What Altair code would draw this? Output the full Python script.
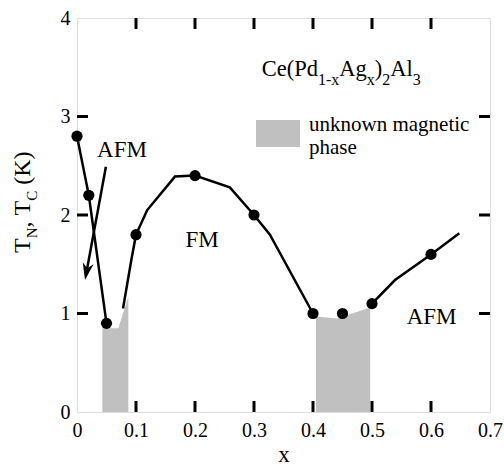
import altair as alt
import pandas as pd

FONT = "Liberation Serif"

# ---------------- data ----------------
pt_x = [0.0, 0.02, 0.05, 0.1, 0.2, 0.3, 0.4, 0.45, 0.5, 0.6]
pt_y = [2.8, 2.2, 0.9, 1.8, 2.4, 2.0, 1.0, 1.0, 1.1, 1.6]

lineA_x = [0.0, 0.02, 0.05]
lineA_y = [2.8, 2.2, 0.9]
lineB_x = [0.078, 0.092, 0.1, 0.119, 0.166, 0.2, 0.259, 0.3, 0.327, 0.4]
lineB_y = [1.05, 1.54, 1.8, 2.05, 2.39, 2.4, 2.28, 2.0, 1.8, 1.0]
lineC_x = [0.5, 0.539, 0.6, 0.648]
lineC_y = [1.1, 1.34, 1.6, 1.815]

shade1_x = [0.043, 0.07, 0.087]
shade1_y = [0.85, 0.85, 1.17]
shade2_x = [0.405, 0.44, 0.497]
shade2_y = [0.97, 0.95, 1.06]

arrow_x = [0.049, 0.0173]
arrow_y = [2.49, 1.46]
arrow_tip_x = [0.0136]
arrow_tip_y = [1.34]

region_labels = ["AFM", "FM", "AFM"]
region_label_x = [0.0763, 0.212, 0.601]
region_label_y = [2.59, 1.675, 0.893]

x_tick_values = [0.0, 0.1, 0.2, 0.3, 0.4, 0.5, 0.6, 0.7]
x_inner_ticks = [0.1, 0.2, 0.3, 0.4, 0.5, 0.6]
y_tick_values = [0, 1, 2, 3, 4]
y_inner_ticks = [1, 2, 3]

formula_parts = ["Ce(Pd", "1-x", "Ag", "x", ")", "2", "Al", "3"]
formula_is_sub = [False, True, False, True, False, True, False, True]
legend_lines = ["unknown magnetic", "phase"]
ytitle_parts = ["T", "N", ", ", "T", "C", " (K)"]
ytitle_is_sub = [False, True, False, False, True, False]

# ---------------- tables ----------------
pts = pd.DataFrame({"x": pt_x, "y": pt_y})

lines = pd.concat([
    pd.DataFrame({"x": lineA_x, "y": lineA_y, "seg": "A"}),
    pd.DataFrame({"x": lineB_x, "y": lineB_y, "seg": "B"}),
    pd.DataFrame({"x": lineC_x, "y": lineC_y, "seg": "C"}),
], ignore_index=True)
lines["ord"] = range(len(lines))

shades = pd.concat([
    pd.DataFrame({"x": shade1_x, "y": shade1_y, "reg": "r1"}),
    pd.DataFrame({"x": shade2_x, "y": shade2_y, "reg": "r2"}),
], ignore_index=True)

arrow = pd.DataFrame({"x": arrow_x, "y": arrow_y})
arrow_tip = pd.DataFrame({"x": arrow_tip_x, "y": arrow_tip_y})
labels_df = pd.DataFrame({"x": region_label_x, "y": region_label_y, "t": region_labels})
xt = pd.DataFrame({"x": x_inner_ticks})
yt = pd.DataFrame({"y": y_inner_ticks})

W, H = 413, 394
GRAY = "#c0c0c0"

# Times / Liberation Serif advance widths (em) for layout of sub-scripted text
EM = {"C": .667, "e": .444, "(": .333, "P": .556, "d": .5, "1": .5, "-": .333,
      "x": .5, "A": .722, "g": .5, ")": .333, "2": .5, "l": .278, "3": .5,
      "T": .611, "N": .722, ",": .25, " ": .25, "K": .722}


def text_width(s, size):
    return sum(EM.get(c, .5) for c in s) * size


xs = alt.Scale(domain=[0, 0.7], nice=False, zero=False)
ys = alt.Scale(domain=[0, 4], nice=False, zero=False)

X = alt.X("x:Q", scale=xs, axis=alt.Axis(
    values=x_tick_values, format="~g", tickSize=0, domain=False, grid=False,
    labelFont=FONT, labelFontSize=20, labelPadding=8, labelColor="black",
    labelOverlap=False, labelBound=False, labelFlush=False,
    title="x", titleFont=FONT, titleFontSize=23, titleFontWeight="normal",
    titleColor="black", titlePadding=3))
Y = alt.Y("y:Q", scale=ys, axis=alt.Axis(
    values=y_tick_values, format="d", tickSize=0, domain=False, grid=False,
    labelFont=FONT, labelFontSize=20, labelPadding=7, labelColor="black",
    labelOverlap=False, labelBound=False, labelFlush=False, title=""))

area = alt.Chart(shades).mark_area(color=GRAY, opacity=1).encode(
    x=X, y=Y, y2=alt.datum(0), detail="reg:N")

line = alt.Chart(lines).mark_line(color="black", strokeWidth=2.5).encode(
    x=X, y=Y, detail="seg:N", order="ord:Q")

dots = alt.Chart(pts).mark_circle(color="black", size=125, opacity=1).encode(x=X, y=Y)

shaft = alt.Chart(arrow).mark_line(color="black", strokeWidth=2.5).encode(x=X, y=Y)
head = alt.Chart(arrow_tip).mark_point(
    shape="M0,0 L-1.1,-3.4 L0,-2.4 L1.1,-3.4 Z", size=100, filled=True,
    color="black", opacity=1, angle=10.5).encode(x=X, y=Y)

lab = alt.Chart(labels_df).mark_text(
    font=FONT, fontSize=23, color="black", align="center", baseline="alphabetic").encode(
    x=X, y=Y, text="t:N")

tick_b = alt.Chart(xt).mark_rule(color="black", strokeWidth=3).encode(
    x=X, y=alt.value(H), y2=alt.value(H - 11))
tick_t = alt.Chart(xt).mark_rule(color="black", strokeWidth=3).encode(
    x=X, y=alt.value(0), y2=alt.value(11))
tick_l = alt.Chart(yt).mark_rule(color="black", strokeWidth=3).encode(
    y=Y, x=alt.value(0), x2=alt.value(11))
tick_r = alt.Chart(yt).mark_rule(color="black", strokeWidth=3).encode(
    y=Y, x=alt.value(W), x2=alt.value(W - 11))

one = alt.Data(values=[{"a": 1}])


def txt(s, x, y, size, angle=0):
    kw = dict(text=s, align="left", baseline="alphabetic", font=FONT,
              fontSize=size, color="black")
    if angle:
        kw["angle"] = angle
    return alt.Chart(one).mark_text(**kw).encode(x=alt.value(x), y=alt.value(y))


layers = [area, line, shaft, head, dots, lab, tick_b, tick_t, tick_l, tick_r]

# formula Ce(Pd1-xAgx)2Al3, laid out piece by piece
MAIN, SUB = 22.5, 16
cx = 184.7
for s, is_sub in zip(formula_parts, formula_is_sub):
    size = SUB if is_sub else MAIN
    layers.append(txt(s, cx, 58 + (9 if is_sub else 0), size))
    cx += text_width(s, size)

# legend swatch + text
layers.append(alt.Chart(one).mark_rect(color=GRAY).encode(
    x=alt.value(179), x2=alt.value(223), y=alt.value(102), y2=alt.value(129)))
for i, s in enumerate(legend_lines):
    layers.append(txt(s, 232, 112.5 + 23 * i, 21))

# rotated y-axis title T_N, T_C (K)
YT_MAIN, YT_SUB = 24, 15
cy = 235
for s, is_sub in zip(ytitle_parts, ytitle_is_sub):
    size = YT_SUB if is_sub else YT_MAIN
    lead = len(s) - len(s.lstrip())
    cy -= lead * EM[" "] * size
    body = s.strip()
    layers.append(txt(body, -47 + (7 if is_sub else 0), cy, size, 270))
    cy -= text_width(s[lead:], size)

chart = alt.layer(*layers).properties(
    width=W, height=H,
    autosize=alt.AutoSizeParams(type="none"),
    padding={"left": 77, "top": 18, "right": 14, "bottom": 56},
).configure_view(stroke="black", strokeWidth=3).configure(background="white")

chart.save("out.html", embed_options={"renderer": "svg", "actions": False})
